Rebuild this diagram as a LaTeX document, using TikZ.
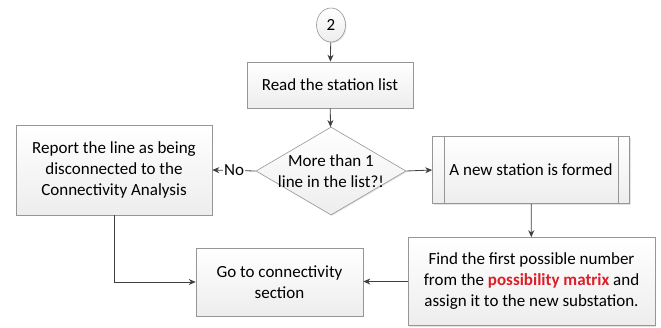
\documentclass[tikz,border=0pt]{standalone}
\usepackage{fontspec}
\setmainfont{Carlito}
\usetikzlibrary{shapes.geometric,arrows.meta,shadows}
\definecolor{edgegray}{RGB}{150,150,150}
\definecolor{arrowgray}{RGB}{64,64,64}
\definecolor{hired}{RGB}{220,30,40}
\tikzset{
  txt/.style={font=\fontsize{17}{21}\selectfont},
  box/.style={draw=edgegray, line width=0.6pt, top color=white, bottom color=gray!14,
    drop shadow={shadow xshift=1pt, shadow yshift=-1pt, fill=gray!35, opacity=0.6},
    align=center, inner sep=0pt, txt},
  conn/.style={draw=arrowgray, line width=0.8pt, -{Stealth[length=7pt,width=6pt]}},
}
\begin{document}
\begin{tikzpicture}[x=1pt,y=-1pt]
\useasboundingbox (0,0) rectangle (661,327);
\node[box, ellipse, minimum width=29pt, minimum height=34pt] (c2) at (331,25) {2};
\node[box, minimum width=166pt, minimum height=46pt] (read) at (330,85) {Read the station list};
\node[box, diamond, minimum width=150pt, minimum height=88pt] (dec) at (331,171) {};
\node[align=center, txt] (dectext) at (dec.center) {More than 1\\line in the list?!};
\node[box, minimum width=196pt, minimum height=90pt] (report) at (114,170) {Report the line as being\\disconnected to the\\Connectivity Analysis};
\node[box, minimum width=197pt, minimum height=67pt] (newst) at (531,170) {A new station is formed};
\draw[edgegray, line width=0.6pt] ([xshift=12pt]newst.north west) -- ([xshift=12pt]newst.south west);
\draw[edgegray, line width=0.6pt] ([xshift=-12pt]newst.north east) -- ([xshift=-12pt]newst.south east);
\node[box, minimum width=247pt, minimum height=88pt] (find) at (531.5,281.5) {Find the first possible number\\from the \textcolor{hired}{\textbf{possibility matrix}} and\\assign it to the new substation.};
\node[box, minimum width=167pt, minimum height=68pt] (goto) at (279.5,282) {Go to connectivity\\section};
\draw[conn] (c2) -- (read);
\draw[conn] (read) -- (dec);
\draw[conn] (dec.west) -- node[fill=white, inner sep=1pt, txt] (nolab) {No} (report.east);
\draw[conn] (dec.east) -- (newst.west);
\draw[conn] (newst) -- (find);
\draw[conn] (find.west) -- (find.west -| goto.east);
\draw[conn] (report.south) |- (goto.west);
\end{tikzpicture}
\end{document}
